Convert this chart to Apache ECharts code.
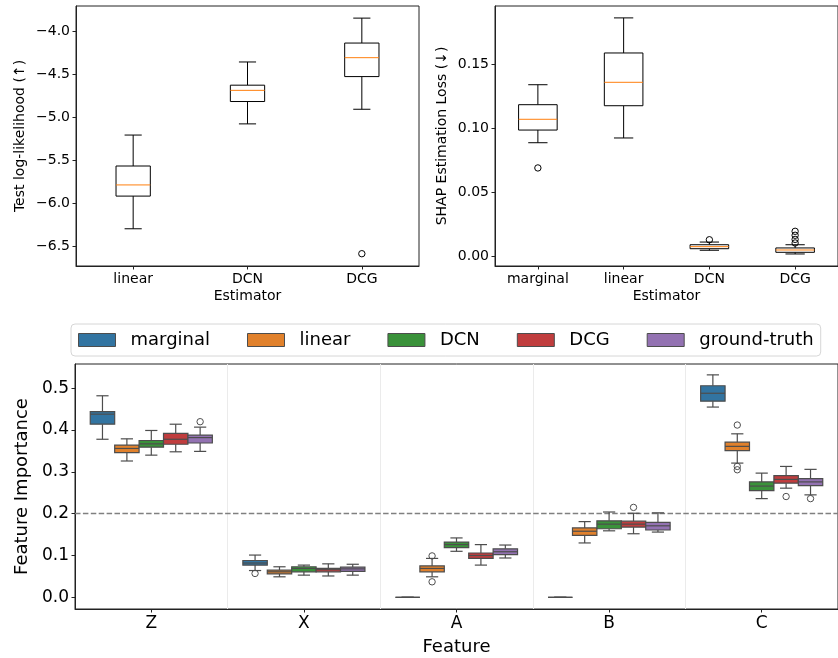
<!DOCTYPE html>
<html>
<head>
<meta charset="utf-8">
<script src="https://cdn.jsdelivr.net/npm/echarts@6/dist/echarts.min.js"></script>
<style>
  html, body { margin: 0; padding: 0; background: #fff; }
  #chart { width: 838px; height: 658px; }
</style>
</head>
<body>
<div id="chart"></div>
<script>
// top left: test log-likelihood, one box per estimator [min, q1, median, q3, max]
const llCategories = ['linear', 'DCN', 'DCG'];
const llBoxes = [
  [-6.30, -5.92, -5.79, -5.57, -5.21],
  [-5.08, -4.82, -4.69, -4.63, -4.36],
  [-4.91, -4.53, -4.31, -4.14, -3.85]
];
const llOutliers = [[2, -6.59]];
const llTicks = [-6.5, -6.0, -5.5, -5.0, -4.5, -4.0];

// top right: SHAP estimation loss
const shapCategories = ['marginal', 'linear', 'DCN', 'DCG'];
const shapBoxes = [
  [0.0885, 0.0984, 0.1068, 0.1182, 0.1338],
  [0.0922, 0.1174, 0.1357, 0.1586, 0.1860],
  [0.0045, 0.0057, 0.0073, 0.0088, 0.0109],
  [0.0016, 0.0029, 0.0047, 0.0063, 0.0088]
];
const shapOutliers = [[0, 0.0688], [2, 0.0127], [3, 0.0102], [3, 0.0130], [3, 0.0162], [3, 0.0193]];
const shapTicks = [0, 0.05, 0.10, 0.15];

// bottom: feature importance, one array per estimator, one box per feature
const features = ['Z', 'X', 'A', 'B', 'C'];
const estimators = ['marginal', 'linear', 'DCN', 'DCG', 'ground-truth'];
const fiMarginal = [
  [0.378, 0.414, 0.438, 0.444, 0.482],
  [0.064, 0.077, 0.082, 0.088, 0.101],
  [0, 0, 0, 0, 0],
  [0, 0, 0, 0, 0],
  [0.455, 0.469, 0.488, 0.506, 0.532]
];
const fiLinear = [
  [0.326, 0.346, 0.356, 0.364, 0.379],
  [0.049, 0.056, 0.061, 0.065, 0.073],
  [0.049, 0.061, 0.069, 0.075, 0.093],
  [0.130, 0.148, 0.158, 0.166, 0.181],
  [0.321, 0.351, 0.361, 0.371, 0.391]
];
const fiDCN = [
  [0.340, 0.359, 0.367, 0.375, 0.399],
  [0.053, 0.061, 0.069, 0.073, 0.077],
  [0.110, 0.119, 0.126, 0.132, 0.142],
  [0.159, 0.164, 0.175, 0.183, 0.204],
  [0.236, 0.255, 0.266, 0.276, 0.297]
];
const fiDCG = [
  [0.348, 0.366, 0.378, 0.392, 0.414],
  [0.051, 0.061, 0.066, 0.069, 0.080],
  [0.077, 0.093, 0.100, 0.106, 0.126],
  [0.152, 0.168, 0.175, 0.182, 0.201],
  [0.261, 0.273, 0.282, 0.291, 0.313]
];
const fiTruth = [
  [0.349, 0.369, 0.382, 0.388, 0.407],
  [0.053, 0.062, 0.068, 0.072, 0.079],
  [0.094, 0.102, 0.109, 0.116, 0.125],
  [0.156, 0.161, 0.171, 0.179, 0.202],
  [0.245, 0.267, 0.276, 0.284, 0.306]
];
// [estimator, feature, value]
const fiOutliers = [
  [0, 1, 0.057], [1, 2, 0.099], [1, 2, 0.037], [3, 3, 0.215], [4, 0, 0.420],
  [1, 4, 0.412], [1, 4, 0.313], [1, 4, 0.305], [3, 4, 0.241], [4, 4, 0.236]
];
const fiTicks = [0, 0.1, 0.2, 0.3, 0.4, 0.5];
const fiReference = 0.2;

const palette = ['#3274a1', '#e1812c', '#3a923a', '#c03d3e', '#9372b2'];
const fiSeries = [fiMarginal, fiLinear, fiDCN, fiDCG, fiTruth];

const chart = echarts.init(document.getElementById('chart'));

// draws one box with whiskers and caps at category value(0)
function boxRenderer(widthFrac, offsetFrac, st) {
  return function (params, api) {
    const cat = api.value(0);
    const band = api.size([1, 0])[0];
    const xc = api.coord([cat, 0])[0] + offsetFrac * band;
    const w = widthFrac * band;
    const py = i => api.coord([cat, api.value(i)])[1];
    const yMin = py(1), yQ1 = py(2), yMed = py(3), yQ3 = py(4), yMax = py(5);
    const line = (x1, y1, x2, y2, s) => ({ type: 'line', shape: { x1, y1, x2, y2 }, style: s });
    return {
      type: 'group',
      children: [
        line(xc, yQ3, xc, yMax, st.whisker),
        line(xc, yQ1, xc, yMin, st.whisker),
        line(xc - w / 4, yMax, xc + w / 4, yMax, st.whisker),
        line(xc - w / 4, yMin, xc + w / 4, yMin, st.whisker),
        { type: 'rect', shape: { x: xc - w / 2, y: yQ3, width: w, height: yQ1 - yQ3 }, style: st.box },
        line(xc - w / 2, yMed, xc + w / 2, yMed, st.median)
      ]
    };
  };
}

function outlierRenderer(hueWidth, stroke) {
  return function (params, api) {
    const cat = api.value(0);
    const band = api.size([1, 0])[0];
    const off = hueWidth ? (api.value(2) - 2) * hueWidth * band : 0;
    const p = api.coord([cat, api.value(1)]);
    return { type: 'circle', shape: { cx: p[0] + off, cy: p[1], r: 3.2 }, style: { fill: 'none', stroke: stroke, lineWidth: 1 } };
  };
}

const mplStyle = {
  whisker: { stroke: '#000', lineWidth: 1 },
  box: { fill: '#fff', stroke: '#000', lineWidth: 1 },
  median: { stroke: '#ff7f0e', lineWidth: 1 }
};

function yAxisCfg(gridIndex, min, max, ticks, digits, fontSize, name, nameGap) {
  return {
    type: 'value', gridIndex, min, max,
    name, nameLocation: 'middle', nameRotate: 90, nameGap,
    nameTextStyle: { fontSize: gridIndex === 2 ? 18 : 14, color: '#000' },
    axisLine: { show: true, onZero: false, lineStyle: { color: '#222' } },
    axisTick: { show: true, length: 3.5, customValues: ticks, lineStyle: { color: '#222' } },
    axisLabel: {
      customValues: ticks, fontSize, color: '#000', margin: 6,
      formatter: v => v.toFixed(digits).replace('-', '\u2212')
    },
    splitLine: { show: false }
  };
}

function xAxisCfg(gridIndex, data, fontSize, name, nameGap, split) {
  return {
    type: 'category', gridIndex, data,
    name, nameLocation: 'middle', nameGap,
    nameTextStyle: { fontSize: gridIndex === 2 ? 18 : 14, color: '#000' },
    axisLine: { show: true, onZero: false, lineStyle: { color: '#222' } },
    axisTick: { show: true, alignWithLabel: true, length: 3.5, lineStyle: { color: '#222' } },
    axisLabel: { fontSize, color: '#000', margin: 6 },
    splitLine: { show: split, lineStyle: { color: '#ebebeb', width: 1 } }
  };
}

const series = [
  {
    type: 'custom', xAxisIndex: 0, yAxisIndex: 0,
    renderItem: boxRenderer(0.3, 0, mplStyle),
    encode: { x: 0, y: [1, 2, 3, 4, 5] },
    data: llBoxes.map((b, i) => [i, ...b])
  },
  {
    type: 'custom', xAxisIndex: 0, yAxisIndex: 0,
    renderItem: outlierRenderer(0, '#000'),
    encode: { x: 0, y: 1 },
    data: llOutliers
  },
  {
    type: 'custom', xAxisIndex: 1, yAxisIndex: 1,
    renderItem: boxRenderer(0.45, 0, mplStyle),
    encode: { x: 0, y: [1, 2, 3, 4, 5] },
    data: shapBoxes.map((b, i) => [i, ...b])
  },
  {
    type: 'custom', xAxisIndex: 1, yAxisIndex: 1,
    renderItem: outlierRenderer(0, '#000'),
    encode: { x: 0, y: 1 },
    data: shapOutliers
  }
];

fiSeries.forEach((boxes, h) => {
  const line = { stroke: '#4d4d4d', lineWidth: 1.2 };
  const s = {
    type: 'custom', name: estimators[h], xAxisIndex: 2, yAxisIndex: 2,
    itemStyle: { color: palette[h] },
    renderItem: boxRenderer(0.16, (h - 2) * 0.16, {
      whisker: line,
      box: { fill: palette[h], stroke: '#4d4d4d', lineWidth: 1.2 },
      median: line
    }),
    encode: { x: 0, y: [1, 2, 3, 4, 5] },
    data: boxes.map((b, i) => [i, ...b]),
    z: 3
  };
  if (h === 0) {
    s.markLine = {
      silent: true, symbol: 'none', label: { show: false },
      lineStyle: { color: '#808080', type: [5.5, 2.4], width: 1.4 },
      data: [{ yAxis: fiReference }],
      z: 1
    };
  }
  series.push(s);
});

series.push({
  type: 'custom', xAxisIndex: 2, yAxisIndex: 2,
  renderItem: outlierRenderer(0.16, '#4d4d4d'),
  encode: { x: 0, y: 1 },
  data: fiOutliers.map(o => [o[1], o[2], o[0]]),
  z: 4
});

chart.setOption({
  animation: false,
  textStyle: { fontFamily: 'DejaVu Sans' },
  grid: [
    { left: 76, top: 6, width: 343, height: 260, show: true, borderColor: '#222', borderWidth: 1 },
    { left: 495, top: 6, width: 347, height: 260, show: true, borderColor: '#222', borderWidth: 1 },
    { left: 75, top: 364, width: 768, height: 245, show: true, borderColor: '#222', borderWidth: 1 }
  ],
  xAxis: [
    xAxisCfg(0, llCategories, 14, 'Estimator', 23, false),
    xAxisCfg(1, shapCategories, 14, 'Estimator', 23, false),
    xAxisCfg(2, features, 17, 'Feature', 29, true)
  ],
  yAxis: [
    yAxisCfg(0, -6.733, -3.709, llTicks, 1, 14, 'Test log-likelihood (\u2191)', 49),
    yAxisCfg(1, -0.0078, 0.1953, shapTicks, 2, 14, 'SHAP Estimation Loss (\u2193)', 46),
    yAxisCfg(2, -0.028, 0.558, fiTicks, 1, 17, 'Feature Importance', 43)
  ],
  legend: {
    left: 71, top: 324,
    data: estimators.map((n, i) => ({
      name: n, icon: 'rect',
      itemStyle: { color: palette[i], borderColor: '#4d4d4d', borderWidth: 1 }
    })),
    itemWidth: 37, itemHeight: 13, itemGap: 37,
    textStyle: { fontSize: 18, color: '#000', padding: [0, 0, 0, 10], lineHeight: 20 },
    borderColor: '#d6d6d6', borderWidth: 1, borderRadius: 4,
    padding: [6, 7, 6, 7],
    selectedMode: false
  },
  series
});
</script>
</body>
</html>
